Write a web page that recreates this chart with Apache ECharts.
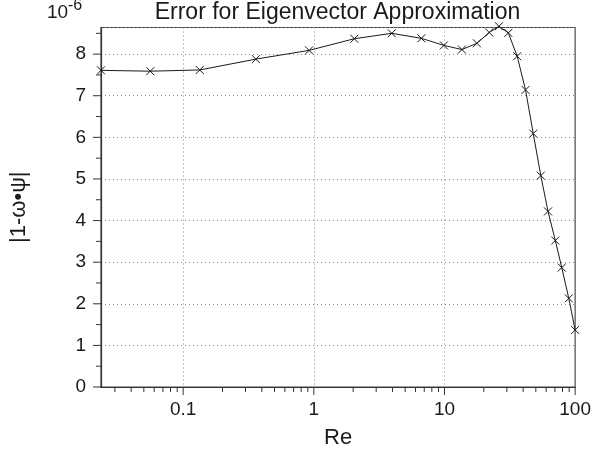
<!DOCTYPE html>
<html>
<head>
<meta charset="utf-8">
<script src="https://cdn.jsdelivr.net/npm/echarts@6/dist/echarts.min.js"></script>
<style>
  html, body { margin: 0; padding: 0; background: #fff; }
  #chart { width: 594px; height: 454px; }
</style>
</head>
<body>
<div id="chart"></div>
<script>
// Reynolds numbers of the samples
const reValues = [0.0235, 0.056, 0.134, 0.36, 0.92, 2.04, 3.95, 6.65, 9.9, 13.6, 17.7, 22, 26.1, 30.8, 36, 41.7, 47.8, 54.6, 62, 70.5, 79, 89.4, 100];
// |1 - omega . psi|, in units of 1e-6
const errorValues = [7.61, 7.59, 7.62, 7.88, 8.09, 8.37, 8.50, 8.38, 8.21, 8.11, 8.26, 8.52, 8.67, 8.51, 7.95, 7.14, 6.09, 5.08, 4.22, 3.52, 2.87, 2.13, 1.37];

const xMajorTicks = [0.1, 1, 10, 100];
const xTickLabels = ['0.1', '1', '10', '100'];
const yMajorTicks = [0, 1, 2, 3, 4, 5, 6, 7, 8];
const yMinorTicks = [0.5, 1.5, 2.5, 3.5, 4.5, 5.5, 6.5, 7.5, 8.5];
const xMinorMultipliers = [2, 3, 4, 5, 6, 7, 8, 9];
const xDecades = [0.01, 0.1, 1, 10];

const xMin = reValues[0];
const xMax = 100;
const yMin = 0;
const yMax = 8.64;

const FONT = '"Liberation Sans", Arial, Helvetica, sans-serif';
const INK = '#1a1a1a';

// log-axis minor tick positions (2..9 in every decade)
const xMinorTicks = [];
xDecades.forEach(d => xMinorMultipliers.forEach(m => {
  const v = +(d * m).toPrecision(6);
  if (v > xMin && v < xMax) xMinorTicks.push(v);
}));

const tickData = [];
xMajorTicks.forEach(v => tickData.push(['x', v, 8]));
xMinorTicks.forEach(v => tickData.push(['x', v, 5]));
yMajorTicks.forEach(v => tickData.push(['y', v, 8]));
yMinorTicks.filter(v => v <= yMax).forEach(v => tickData.push(['y', v, 5]));

const chart = echarts.init(document.getElementById('chart'), null, { renderer: 'canvas' });

chart.setOption({
  animation: false,
  backgroundColor: '#fff',
  textStyle: { fontFamily: FONT },
  title: {
    text: 'Error for Eigenvector Approximation',
    left: 337.5,
    top: 1,
    padding: 0,
    textAlign: 'center',
    textStyle: { fontFamily: FONT, fontSize: 23, fontWeight: 'normal', color: INK }
  },
  graphic: [
    { type: 'text', left: 47, top: 3, style: { text: '10', font: '19px ' + FONT, fill: INK } },
    { type: 'text', left: 68, top: -2, style: { text: '-6', font: '16px ' + FONT, fill: INK } }
  ],
  grid: {
    left: 97.5, right: 16.5, top: 27.5, bottom: 65,
    show: true, borderColor: '#444', borderWidth: 1.2, backgroundColor: 'transparent'
  },
  xAxis: {
    type: 'log',
    logBase: 10,
    min: xMin,
    max: xMax,
    name: 'Re',
    nameLocation: 'middle',
    nameGap: 40,
    nameTextStyle: { fontFamily: FONT, fontSize: 22, color: INK },
    axisLine: { lineStyle: { color: '#333', width: 1.2 } },
    axisTick: { show: false },
    axisLabel: {
      margin: 13,
      fontFamily: FONT, fontSize: 19, color: INK,
      formatter: v => {
        const e = Math.log10(v);
        if (Math.abs(e - Math.round(e)) > 1e-6) return '';
        const i = xMajorTicks.findIndex(t => Math.abs(Math.log10(t) - e) < 1e-6);
        return i >= 0 ? xTickLabels[i] : '';
      }
    },
    splitLine: { show: true, lineStyle: { color: '#8a8a8a', type: [1, 3], width: 1 } }
  },
  yAxis: {
    type: 'value',
    min: yMin,
    max: yMax,
    interval: 1,
    name: '|1-ω•ψ|',
    nameLocation: 'middle',
    nameGap: 71,
    nameTextStyle: { fontFamily: FONT, fontSize: 22, color: INK },
    axisLine: { show: true, lineStyle: { color: '#333', width: 1.2 } },
    axisTick: { show: false },
    axisLabel: {
      margin: 15,
      fontFamily: FONT, fontSize: 19, color: INK,
      formatter: v => (Number.isInteger(v) ? String(v) : '')
    },
    splitLine: { show: true, lineStyle: { color: '#8a8a8a', type: [1, 3], width: 1 } }
  },
  series: [
    {
      type: 'line',
      data: reValues.map((x, i) => [x, errorValues[i]]),
      clip: false,
      lineStyle: { color: INK, width: 1 },
      symbol: 'path://M0,0L10,10M10,0L0,10',
      symbolSize: 8,
      showAllSymbol: true,
      itemStyle: { color: INK, borderColor: INK, borderWidth: 1 },
      silent: true,
      z: 3
    },
    {
      // axis ticks drawn outward from the axis lines
      type: 'custom',
      silent: true,
      clip: false,
      data: tickData.map(d => [d[0] === 'x' ? d[1] : xMin, d[0] === 'y' ? d[1] : yMin, d[2], d[0] === 'x' ? 0 : 1]),
      renderItem: (params, api) => {
        const p = api.coord([api.value(0), api.value(1)]);
        const len = api.value(2);
        const horizontal = api.value(3) === 1;
        const shape = horizontal
          ? { x1: p[0] - len, y1: p[1], x2: p[0], y2: p[1] }
          : { x1: p[0], y1: p[1], x2: p[0], y2: p[1] + len };
        return { type: 'line', shape, style: { stroke: '#333', lineWidth: 1 } };
      },
      z: 4
    }
  ]
});
</script>
</body>
</html>
